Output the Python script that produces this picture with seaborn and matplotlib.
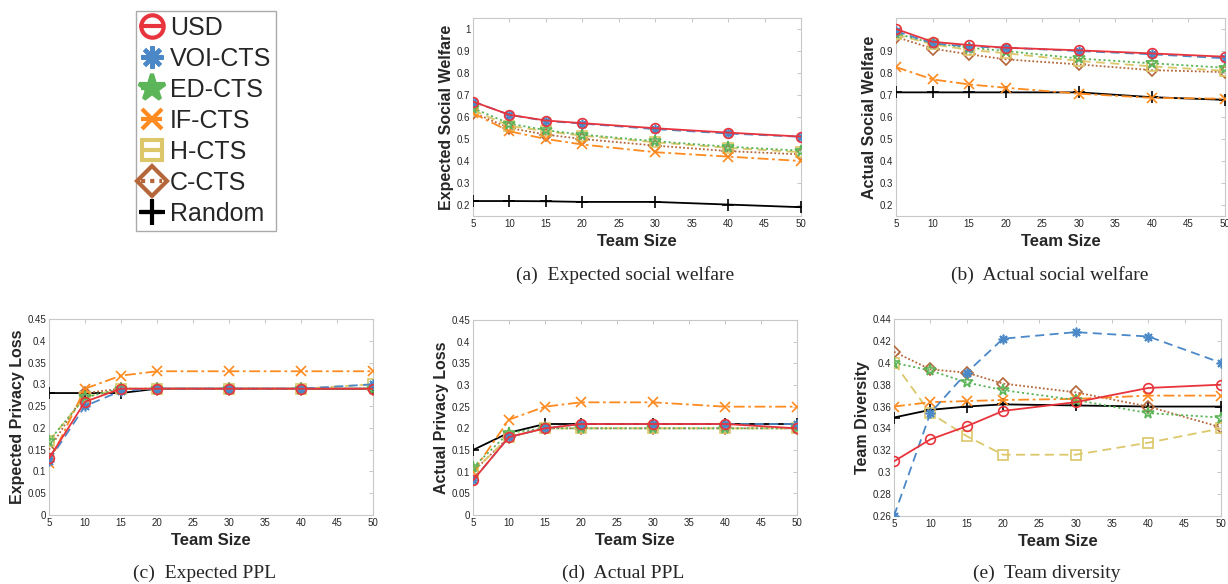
import matplotlib
matplotlib.use("Agg")
import matplotlib.pyplot as plt
import seaborn as sns
import numpy as np
import pandas as pd

# ---------------- data ----------------
team_sizes = [5, 10, 15, 20, 30, 40, 50]
methods = ["USD", "VOI-CTS", "ED-CTS", "IF-CTS", "H-CTS", "C-CTS", "Random"]

# (a) Expected social welfare
esw_usd = [0.67, 0.61, 0.584, 0.572, 0.549, 0.529, 0.511]
esw_voi = [0.67, 0.61, 0.582, 0.570, 0.545, 0.525, 0.510]
esw_ed = [0.64, 0.57, 0.540, 0.520, 0.490, 0.465, 0.447]
esw_if = [0.617, 0.535, 0.500, 0.475, 0.440, 0.420, 0.400]
esw_h = [0.63, 0.56, 0.535, 0.515, 0.485, 0.460, 0.440]
esw_c = [0.62, 0.55, 0.520, 0.500, 0.470, 0.445, 0.430]
esw_rand = [0.218, 0.218, 0.217, 0.214, 0.214, 0.202, 0.190]

# (b) Actual social welfare
asw_usd = [1.0, 0.942, 0.927, 0.915, 0.903, 0.889, 0.874]
asw_voi = [0.99, 0.935, 0.920, 0.915, 0.900, 0.885, 0.867]
asw_ed = [0.98, 0.935, 0.915, 0.900, 0.866, 0.844, 0.824]
asw_if = [0.827, 0.771, 0.748, 0.733, 0.706, 0.687, 0.683]
asw_h = [0.975, 0.930, 0.905, 0.890, 0.855, 0.830, 0.810]
asw_c = [0.964, 0.911, 0.885, 0.862, 0.839, 0.813, 0.804]
asw_rand = [0.712, 0.712, 0.712, 0.712, 0.712, 0.690, 0.678]

# (c) Expected privacy loss
epl_usd = [0.13, 0.26, 0.29, 0.29, 0.29, 0.29, 0.29]
epl_voi = [0.125, 0.25, 0.285, 0.29, 0.29, 0.29, 0.30]
epl_ed = [0.17, 0.27, 0.29, 0.29, 0.29, 0.29, 0.29]
epl_if = [0.12, 0.29, 0.32, 0.33, 0.33, 0.33, 0.33]
epl_h = [0.17, 0.27, 0.29, 0.29, 0.29, 0.29, 0.30]
epl_c = [0.15, 0.28, 0.29, 0.29, 0.29, 0.29, 0.29]
epl_rand = [0.28, 0.28, 0.28, 0.29, 0.29, 0.29, 0.29]

# (d) Actual privacy loss
apl_usd = [0.08, 0.18, 0.20, 0.21, 0.21, 0.21, 0.20]
apl_voi = [0.08, 0.18, 0.20, 0.21, 0.21, 0.21, 0.21]
apl_ed = [0.11, 0.19, 0.20, 0.20, 0.20, 0.20, 0.20]
apl_if = [0.10, 0.22, 0.25, 0.26, 0.26, 0.25, 0.25]
apl_h = [0.10, 0.18, 0.20, 0.20, 0.20, 0.20, 0.20]
apl_c = [0.10, 0.18, 0.20, 0.20, 0.20, 0.20, 0.20]
apl_rand = [0.15, 0.19, 0.21, 0.21, 0.21, 0.21, 0.21]

# (e) Team diversity
div_usd = [0.31, 0.33, 0.342, 0.356, 0.364, 0.377, 0.380]
div_voi = [0.26, 0.354, 0.391, 0.422, 0.428, 0.424, 0.400]
div_ed = [0.40, 0.393, 0.382, 0.375, 0.366, 0.354, 0.350]
div_if = [0.36, 0.364, 0.365, 0.366, 0.367, 0.370, 0.370]
div_h = [0.40, 0.354, 0.333, 0.316, 0.316, 0.327, 0.340]
div_c = [0.41, 0.394, 0.391, 0.381, 0.373, 0.360, 0.341]
div_rand = [0.35, 0.357, 0.360, 0.362, 0.361, 0.360, 0.360]

panels = [
    dict(series=[esw_usd, esw_voi, esw_ed, esw_if, esw_h, esw_c, esw_rand],
         ylabel="Expected Social Welfare", caption="(a)  Expected social welfare"),
    dict(series=[asw_usd, asw_voi, asw_ed, asw_if, asw_h, asw_c, asw_rand],
         ylabel="Actual Social Welfare", caption="(b)  Actual social welfare"),
    dict(series=[epl_usd, epl_voi, epl_ed, epl_if, epl_h, epl_c, epl_rand],
         ylabel="Expected Privacy Loss", caption="(c)  Expected PPL"),
    dict(series=[apl_usd, apl_voi, apl_ed, apl_if, apl_h, apl_c, apl_rand],
         ylabel="Actual Privacy Loss", caption="(d)  Actual PPL"),
    dict(series=[div_usd, div_voi, div_ed, div_if, div_h, div_c, div_rand],
         ylabel="Team Diversity", caption="(e)  Team diversity"),
]

# ---------------- styles ----------------
colors = ["#E8343C", "#4A88C7", "#5DB55A", "#FF8A1F", "#DCC76A", "#B5673A", "#000000"]
markers = ["o", (8, 2, 0), "*", "x", "s", "D", "+"]
linestyles = ["-", (0, (5, 3)), (0, (1.2, 1.5)), (0, (6, 2, 1.5, 2)), (0, (5, 3)), (0, (1, 1.2)), "-"]
msizes = [7, 7, 8.5, 6.5, 6.5, 6.5, 8]

sns.set_theme(style="white")
plt.rcParams["font.family"] = ["Liberation Sans", "DejaVu Sans"]

fig = plt.figure(figsize=(12.28, 5.84), dpi=100)
W, H = 1228, 584

def rect(l, t, r, b):
    return [l / W, 1 - b / H, (r - l) / W, (b - t) / H]

ax_rects = [rect(473, 18, 801, 216), rect(896, 18, 1225, 216),
            rect(49, 319, 373, 515), rect(473, 320, 797, 515),
            rect(894, 319, 1221, 516)]
ylims = [(0.15, 1.05), (0.15, 1.05), (0, 0.45), (0, 0.45), (0.26, 0.44)]
yticks = [np.arange(0.2, 1.001, 0.1), np.arange(0.2, 1.001, 0.1),
          np.arange(0, 0.451, 0.05), np.arange(0, 0.451, 0.05),
          np.arange(0.26, 0.4401, 0.02)]
captions_xy = [(625, 275), (1050, 275), (205, 573), (623, 573), (1047, 573)]

axes = []
for i, p in enumerate(panels):
    ax = fig.add_axes(ax_rects[i])
    axes.append(ax)
    for j, name in enumerate(methods):
        df = pd.DataFrame({"Team Size": team_sizes, "value": p["series"][j]})
        sns.lineplot(data=df, x="Team Size", y="value", ax=ax, color=colors[j],
                     marker=markers[j], markersize=msizes[j],
                     markerfacecolor="none", markeredgecolor=colors[j],
                     markeredgewidth=1.2, linestyle=linestyles[j], linewidth=1.3,
                     label=name, zorder=3 + (6 - j) * 0.1)
    leg = ax.get_legend()
    if leg is not None:
        leg.remove()
    ax.set_xlim(5, 50)
    ax.set_xticks(np.arange(5, 51, 5))
    ax.set_ylim(*ylims[i])
    yt = yticks[i]
    ax.set_yticks(yt)
    labs = []
    for v in yt:
        s = ("%.2f" % v).rstrip("0").rstrip(".")
        labs.append(s)
    if i == 1:
        labs[-1] = ""
    ax.set_yticklabels(labs)
    ax.tick_params(direction="in", top=True, right=True, length=3, width=0.6,
                   color="#bdbdbd", labelsize=7, labelcolor="#262626", pad=2)
    for sp in ax.spines.values():
        sp.set_color("#c8c8c8")
        sp.set_linewidth(0.8)
    ax.set_xlabel("Team Size", fontsize=12, fontweight="bold", color="#262626", labelpad=4)
    ax.set_ylabel(p["ylabel"], fontsize=11.5, fontweight="bold", color="#262626", labelpad=2)
    cx, cy = captions_xy[i]
    fig.text(cx / W, 1 - cy / H, p["caption"], ha="center", va="center",
             fontsize=14, family=["Liberation Serif", "DejaVu Serif"])

handles, labels = axes[0].get_legend_handles_labels()
leg = fig.legend(handles, labels, loc="upper left", bbox_to_anchor=(136 / W, 1 - 11 / H),
                 borderaxespad=0, fontsize=18, markerscale=2.3, handlelength=0.85,
                 handletextpad=0.3, labelspacing=0.28, borderpad=0.2, frameon=True,
                 fancybox=False, edgecolor="#aaaaaa", framealpha=1)
for j, h in enumerate(leg.legend_handles):
    h.set_markeredgewidth(3.0)
    h.set_linewidth(3.0)
    if j == 2:
        h.set_markerfacecolor(colors[2])

fig.savefig("out.png", dpi=100)
